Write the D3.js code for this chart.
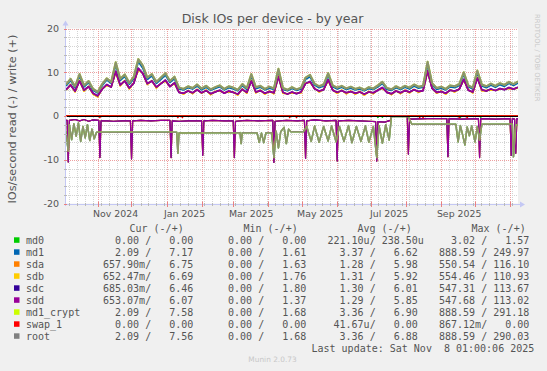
<!DOCTYPE html>
<html>
<head>
<meta charset="utf-8">
<script src="https://cdn.jsdelivr.net/npm/d3@7"></script>
<style>
  html, body { margin: 0; padding: 0; background: #f0f0f0; }
  svg { display: block; }
  text { font-family: "DejaVu Sans", sans-serif; fill: #555; }
  .mono { font-family: "DejaVu Sans Mono", monospace; font-size: 10px; white-space: pre; }
</style>
</head>
<body>
<div id="chart"></div>
<script>
// time span of the yearly graph (400 days)
const startDate = new Date(2024, 9, 4, 1, 0, 6);
const endDate = new Date(2025, 10, 8, 1, 0, 6);
const writeStepDays = 4;

const devices = ["md0", "md1", "sda", "sdb", "sdc", "sdd", "md1_crypt", "swap_1", "root"];
const deviceColors = ["#00cc00", "#0066b3", "#ff8000", "#ffcc00", "#330099", "#990099", "#ccff00", "#ff0000", "#808080"];

// writes (+), one value every 4 days
const writeRoot = [
  7.2, 8.5, 6.8, 9.6, 7.0, 8.0, 6.2, 5.5, 7.3, 8.6,
  7.8, 12.3, 8.5, 9.5, 7.6, 9.0, 13.0, 11.5, 8.8, 9.6,
  7.8, 8.8, 9.8, 8.0, 9.0, 6.5, 6.2, 6.8, 6.4, 7.2,
  6.3, 6.9, 6.1, 6.6, 7.0, 6.2, 6.8, 6.5, 6.0, 7.3,
  6.4, 9.6, 6.6, 6.9, 6.2, 6.7, 6.3, 10.8, 6.4, 6.0,
  6.6, 6.1, 6.5, 8.8, 9.4, 7.4, 6.8, 7.2, 9.8, 7.0,
  6.5, 6.9, 6.3, 6.7, 6.2, 6.5, 6.0, 6.6, 6.3, 7.0,
  7.8, 6.4, 6.1, 6.8, 6.3, 6.9, 6.5, 7.2, 6.7, 6.9,
  12.4, 7.5, 6.4, 6.7, 6.2, 7.0, 6.8, 7.3, 10.0, 7.0,
  6.5, 10.4, 7.2, 6.8, 7.4, 6.9, 7.5, 7.1, 7.8, 7.3,
  7.9
];
const writeMd1 = [
  6.9, 8.2, 6.5, 9.2, 6.7, 7.7, 5.9, 5.3, 7.0, 8.3,
  7.5, 11.8, 8.2, 9.1, 7.3, 8.6, 12.5, 11.0, 8.4, 9.2,
  7.5, 8.4, 9.4, 7.7, 8.6, 6.2, 6.0, 6.5, 6.2, 6.9,
  6.0, 6.6, 5.9, 6.3, 6.7, 6.0, 6.5, 6.2, 5.8, 7.0,
  6.1, 9.2, 6.3, 6.6, 6.0, 6.4, 6.1, 10.4, 6.1, 5.8,
  6.3, 5.9, 6.2, 8.4, 9.0, 7.1, 6.5, 6.9, 9.4, 6.7,
  6.2, 6.6, 6.1, 6.4, 6.0, 6.2, 5.8, 6.3, 6.1, 6.7,
  7.5, 6.1, 5.9, 6.5, 6.1, 6.6, 6.2, 6.9, 6.4, 6.6,
  11.9, 7.2, 6.1, 6.4, 6.0, 6.7, 6.5, 7.0, 9.6, 6.7,
  6.2, 10.0, 6.9, 6.5, 7.1, 6.6, 7.2, 6.8, 7.5, 7.0,
  7.6
];
const writeSdab = [
  5.8, 7.2, 5.5, 8.1, 5.7, 6.8, 5.0, 4.4, 6.2, 7.0,
  6.7, 10.0, 6.9, 8.1, 6.2, 7.6, 10.6, 9.8, 7.2, 8.1,
  6.4, 7.5, 8.0, 6.8, 7.4, 5.5, 5.0, 5.8, 5.1, 6.1,
  5.2, 5.9, 4.9, 5.6, 5.7, 5.3, 5.5, 5.5, 4.8, 6.2,
  5.2, 8.1, 5.3, 5.9, 5.0, 5.7, 5.1, 9.1, 5.2, 5.1,
  5.3, 5.2, 5.3, 7.5, 7.7, 6.3, 5.5, 6.1, 8.1, 6.0,
  5.2, 5.9, 5.1, 5.7, 5.0, 5.6, 4.8, 5.6, 5.1, 6.0,
  6.3, 5.5, 4.9, 5.8, 5.1, 5.9, 5.3, 6.1, 5.4, 5.9,
  10.1, 6.4, 5.2, 5.7, 5.0, 6.0, 5.5, 6.2, 8.2, 6.0,
  5.3, 8.8, 5.8, 5.8, 6.0, 5.9, 6.1, 6.1, 6.3, 6.2,
  6.4
];
const writeSdcd = [
  6.0, 7.1, 5.7, 8.0, 5.9, 6.7, 5.2, 4.6, 6.1, 7.2,
  6.6, 10.2, 7.1, 8.0, 6.4, 7.5, 10.9, 9.7, 7.4, 8.0,
  6.6, 7.4, 8.2, 6.7, 7.6, 5.4, 5.2, 5.7, 5.3, 6.0,
  5.3, 5.8, 5.1, 5.5, 5.9, 5.2, 5.7, 5.4, 5.0, 6.1,
  5.4, 8.0, 5.5, 5.8, 5.2, 5.6, 5.3, 9.0, 5.4, 5.0,
  5.5, 5.1, 5.5, 7.4, 7.9, 6.2, 5.7, 6.0, 8.3, 5.9,
  5.4, 5.8, 5.3, 5.6, 5.2, 5.5, 5.0, 5.5, 5.3, 5.9,
  6.5, 5.4, 5.1, 5.7, 5.3, 5.8, 5.5, 6.0, 5.6, 5.8,
  10.3, 6.3, 5.4, 5.6, 5.2, 5.9, 5.7, 6.1, 8.4, 5.9,
  5.5, 8.7, 6.0, 5.7, 6.2, 5.8, 6.3, 6.0, 6.5, 6.1,
  6.6
];
const writeZero = [[0, 0], [400, 0]];

// reads (-), as [day since start, value] break points
const readDisks = [
  [0, -1.0], [1, -1.0], [2, -10.5], [3, -1.0], [8, -0.8], [12, -1.1], [16, -0.8], [20, -1.2], [24, -0.9],
  [29, -1.0], [30, -9.5], [31, -1.1], [36, -1.1], [42, -1.2], [50, -1.1], [57, -1.1], [58, -9.8], [59, -1.1],
  [66, -1.0], [75, -1.1], [84, -1.0], [92, -1.0], [93, -9.5], [94, -1.1], [100, -1.2], [108, -1.1],
  [120, -1.1], [121, -9.0], [122, -1.1], [130, -1.0], [140, -1.1], [148, -1.1], [149, -9.5], [150, -1.2],
  [160, -1.0], [170, -1.1], [183, -1.0], [184, -10.6], [185, -1.2], [195, -1.0], [205, -1.1], [211, -1.0],
  [212, -9.7], [213, -1.1], [220, -0.9], [230, -1.1], [239, -1.0], [240, -10.3], [241, -1.1], [250, -1.0],
  [260, -1.1], [268, -1.2], [274, -1.3], [275, -10.3], [276, -1.3], [282, -1.4], [287, -1.0], [288, -0.1],
  [302, -0.1], [303, -8.7], [304, -0.7], [320, -0.6], [337, -0.6], [338, -9.3], [339, -0.6], [350, -0.7],
  [365, -0.6], [366, -9.5], [367, -0.6], [380, -0.7], [393, -0.6], [394, -9.0], [395, -0.6], [397, -0.7],
  [398, -8.5], [399, -0.6], [400, -0.65]
];
const readHost = [
  [0, -3.5], [1, -6.0], [2, -8.0], [3, -2.0], [5, -5.4], [7, -1.8], [9, -4.6], [11, -1.6], [13, -5.8],
  [15, -2.4], [17, -5.0], [19, -2.0], [21, -5.6], [23, -3.0], [25, -5.2], [27, -3.7], [98, -3.7], [99, -8.5],
  [100, -3.9], [154, -3.8], [155, -6.3], [156, -3.8], [169, -3.8], [171, -6.0], [173, -3.9], [175, -6.1],
  [177, -3.8], [182, -3.8], [184, -9.5], [186, -3.5], [188, -7.3], [190, -3.6], [193, -2.6], [195, -6.3],
  [197, -3.0], [199, -3.6], [210, -3.6], [213, -2.4], [217, -5.8], [220, -2.3], [224, -6.0], [228, -2.4],
  [232, -5.7], [235, -2.3], [239, -5.9], [242, -2.4], [246, -5.8], [250, -2.2], [253, -6.1], [257, -2.4],
  [261, -5.8], [265, -2.3], [268, -6.0], [272, -2.4], [275, -9.5], [277, -2.2], [280, -6.2], [283, -2.0],
  [286, -5.5], [288, -0.1], [302, -0.1], [303, -0.2], [306, -1.9], [345, -1.9], [347, -5.9], [349, -2.2],
  [351, -4.3], [353, -6.6], [355, -2.5], [357, -4.5], [359, -2.3], [362, -5.9], [364, -2.4], [366, -5.5],
  [368, -1.9], [395, -1.9], [396, -9.3], [398, -2.0], [400, -2.1]
];
const readMd0 = [
  [0, 0], [275, 0], [276, -0.35], [277, 0], [279, 0], [280, -0.3], [281, 0], [348, 0], [349, -0.3],
  [350, 0], [366, 0], [367, -0.3], [368, 0], [400, 0]
];
const readSwap = [
  [0, 0], [29, 0], [30, -0.4], [31, 0], [98, 0], [99, -0.4], [100, 0], [102, 0], [103, -0.4], [104, 0],
  [153, 0], [154, -0.4], [155, 0], [197, 0], [198, -0.4], [199, 0], [203, 0], [204, -0.4], [205, 0],
  [312, 0], [313, -0.4], [314, 0], [315, 0], [316, -0.4], [317, 0], [347, 0], [348, -0.4], [349, 0],
  [354, 0], [355, -0.4], [356, 0], [400, 0]
];

// which read / write data each device uses
const deviceReads = [readMd0, readHost, readDisks, readDisks, readDisks, readDisks, readHost, readSwap, readHost];
const deviceWrites = [writeZero, writeMd1, writeSdab, writeSdab, writeSdcd, writeSdcd, writeRoot, writeZero, writeRoot];

// legend table
const legendHeaders = ["Cur (-/+)", "Min (-/+)", "Avg (-/+)", "Max (-/+)"];
const legendCur = ["  0.00 /   0.00", "  2.09 /   7.17", "657.90m/   6.75", "652.47m/   6.69", "685.03m/   6.46",
  "653.07m/   6.07", "  2.09 /   7.58", "  0.00 /   0.00", "  2.09 /   7.56"];
const legendMin = ["  0.00 /   0.00", "  0.00 /   1.61", "  0.00 /   1.63", "  0.00 /   1.76", "  0.00 /   1.80",
  "  0.00 /   1.37", "  0.00 /   1.68", "  0.00 /   0.00", "  0.00 /   1.68"];
const legendAvg = ["221.10u/ 238.50u", "  3.37 /   6.62", "  1.28 /   5.98", "  1.31 /   5.92", "  1.30 /   6.01",
  "  1.29 /   5.85", "  3.36 /   6.90", " 41.67u/   0.00", "  3.36 /   6.88"];
const legendMax = ["  3.02 /   1.57", "888.59 / 249.97", "550.54 / 116.10", "554.46 / 110.93", "547.31 / 113.67",
  "547.68 / 113.02", "888.59 / 291.18", "867.12m/   0.00", "888.59 / 290.03"];
const lastUpdate = "Last update: Sat Nov  8 01:00:06 2025";

const width = 547;
const height = 371;

const svg = d3.select("#chart").append("svg")
  .attr("width", width)
  .attr("height", height)
  .attr("viewBox", [0, 0, width, height]);

svg.append("rect").attr("width", width).attr("height", height).attr("fill", "#f0f0f0");

const x = d3.scaleTime().domain([startDate, endDate]).range([66, 518]);
const y = d3.scaleLinear().domain([-20, 20]).range([203.5, 28.5]);

const plotLeft = x.range()[0];
const plotRight = x.range()[1];
const plotTop = y.range()[1];
const plotBottom = y.range()[0];

svg.append("rect")
  .attr("x", plotLeft)
  .attr("y", plotTop)
  .attr("width", plotRight - plotLeft)
  .attr("height", plotBottom - plotTop)
  .attr("fill", "#ffffff");

svg.append("defs").append("clipPath")
  .attr("id", "plotClip")
  .append("rect")
  .attr("x", plotLeft)
  .attr("y", plotTop - 1)
  .attr("width", plotRight - plotLeft)
  .attr("height", plotBottom - plotTop + 1);

// grid
const grid = svg.append("g").attr("shape-rendering", "crispEdges");

const weeks = d3.timeMonday.range(startDate, endDate);
const months = d3.timeMonth.range(startDate, endDate);

grid.selectAll(".vminor")
  .data(weeks)
  .join("line")
  .attr("x1", function (d) { return Math.round(x(d)) + 0.5; })
  .attr("x2", function (d) { return Math.round(x(d)) + 0.5; })
  .attr("y1", plotTop)
  .attr("y2", plotBottom)
  .attr("stroke", "#d4d4d4")
  .attr("stroke-dasharray", "1,1");

grid.selectAll(".hminor")
  .data(y.ticks(20).filter(function (v) { return v % 10 !== 0; }))
  .join("line")
  .attr("x1", plotLeft)
  .attr("x2", plotRight)
  .attr("y1", function (v) { return Math.round(y(v)) + 0.5; })
  .attr("y2", function (v) { return Math.round(y(v)) + 0.5; })
  .attr("stroke", "#d4d4d4")
  .attr("stroke-dasharray", "1,1");

grid.selectAll(".vmajor")
  .data(months)
  .join("line")
  .attr("x1", function (d) { return Math.round(x(d)) + 0.5; })
  .attr("x2", function (d) { return Math.round(x(d)) + 0.5; })
  .attr("y1", plotTop)
  .attr("y2", plotBottom)
  .attr("stroke", "#eda0a0")
  .attr("stroke-dasharray", "1,1");

grid.selectAll(".hmajor")
  .data(y.ticks(4).filter(function (v) { return v !== 0 && v !== -20; }))
  .join("line")
  .attr("x1", plotLeft)
  .attr("x2", plotRight)
  .attr("y1", function (v) { return Math.round(y(v)) + 0.5; })
  .attr("y2", function (v) { return Math.round(y(v)) + 0.5; })
  .attr("stroke", "#eda0a0")
  .attr("stroke-dasharray", "1,1");

// data lines
const line = d3.line()
  .x(function (p) { return x(p[0]); })
  .y(function (p) { return y(p[1]); });

function pointsFromBreaks(breaks) {
  return breaks.map(function (b) { return [d3.timeDay.offset(startDate, b[0]), b[1]]; });
}

function pointsFromSteps(values) {
  return values.map(function (v, i) { return [d3.timeDay.offset(startDate, i * writeStepDays), v]; });
}

const lines = svg.append("g").attr("clip-path", "url(#plotClip)");

devices.forEach(function (name, i) {
  const writes = deviceWrites[i];
  const writePts = typeof writes[0] === "number" ? pointsFromSteps(writes) : pointsFromBreaks(writes);
  const isHost = name === "root" || name === "md1" || name === "md1_crypt";
  const opacity = name === "root" ? 0.85 : 1;

  lines.append("path")
    .attr("d", line(pointsFromBreaks(deviceReads[i])))
    .attr("fill", "none")
    .attr("stroke", deviceColors[i])
    .attr("stroke-opacity", opacity)
    .attr("stroke-width", isHost ? 1.5 : 1.2)
    .attr("stroke-linejoin", "round");

  lines.append("path")
    .attr("d", line(writePts))
    .attr("fill", "none")
    .attr("stroke", deviceColors[i])
    .attr("stroke-opacity", opacity)
    .attr("stroke-width", isHost ? 2 : 1.6)
    .attr("stroke-linejoin", "round");
});

// zero line
svg.append("line")
  .attr("x1", plotLeft)
  .attr("x2", plotRight)
  .attr("y1", Math.round(y(0)) + 0.5)
  .attr("y2", Math.round(y(0)) + 0.5)
  .attr("stroke", "#000")
  .attr("shape-rendering", "crispEdges");

// axes
const axisColor = "#c4c8f4";
const axes = svg.append("g").attr("shape-rendering", "crispEdges");

axes.append("line")
  .attr("x1", plotLeft - 0.5).attr("x2", plotLeft - 0.5)
  .attr("y1", plotBottom + 2).attr("y2", plotTop - 4)
  .attr("stroke", axisColor);
axes.append("line")
  .attr("x1", plotLeft - 2).attr("x2", plotRight + 3)
  .attr("y1", Math.round(plotBottom) + 0.5).attr("y2", Math.round(plotBottom) + 0.5)
  .attr("stroke", axisColor);

svg.append("path")
  .attr("d", `M${plotLeft - 3.5},${plotTop - 3} L${plotLeft - 0.5},${plotTop - 8} L${plotLeft + 2.5},${plotTop - 3} Z`)
  .attr("fill", axisColor);
svg.append("path")
  .attr("d", `M${plotRight + 2},${Math.round(plotBottom) - 2.5} L${plotRight + 7},${Math.round(plotBottom) + 0.5} L${plotRight + 2},${Math.round(plotBottom) + 3.5} Z`)
  .attr("fill", axisColor);

axes.selectAll(".xtick-minor")
  .data(weeks)
  .join("line")
  .attr("x1", function (d) { return Math.round(x(d)) + 0.5; })
  .attr("x2", function (d) { return Math.round(x(d)) + 0.5; })
  .attr("y1", plotBottom - 1)
  .attr("y2", plotBottom + 2)
  .attr("stroke", "#b8b8b8");

axes.selectAll(".xtick-major")
  .data(months)
  .join("line")
  .attr("x1", function (d) { return Math.round(x(d)) + 0.5; })
  .attr("x2", function (d) { return Math.round(x(d)) + 0.5; })
  .attr("y1", plotBottom - 2)
  .attr("y2", plotBottom + 3)
  .attr("stroke", "#e88080");

axes.selectAll(".ytick")
  .data(y.ticks(20))
  .join("line")
  .attr("x1", plotLeft - 2)
  .attr("x2", plotLeft + 1)
  .attr("y1", function (v) { return Math.round(y(v)) + 0.5; })
  .attr("y2", function (v) { return Math.round(y(v)) + 0.5; })
  .attr("stroke", function (v) { return v % 10 === 0 ? "#e88080" : "#b8b8b8"; });

// tick labels
svg.selectAll(".ylabel")
  .data(y.ticks(4))
  .join("text")
  .attr("x", 59)
  .attr("y", function (v) { return y(v) + 3.4; })
  .attr("text-anchor", "end")
  .attr("font-size", "9.5px")
  .text(function (v) { return v; });

const labelMonths = d3.timeMonth.every(2).range(startDate, endDate)
  .filter(function (d) { return d3.timeDay.offset(d, 16) < endDate; });
svg.selectAll(".xlabel")
  .data(labelMonths)
  .join("text")
  .attr("x", function (d) { return x(d3.timeDay.offset(d, 16)); })
  .attr("y", 216.5)
  .attr("text-anchor", "middle")
  .attr("font-size", "9.4px")
  .text(d3.timeFormat("%b %Y"));

// title and axis label
svg.append("text")
  .attr("x", 272.5)
  .attr("y", 23)
  .attr("text-anchor", "middle")
  .attr("font-size", "12.6px")
  .text("Disk IOs per device - by year");

svg.append("text")
  .attr("transform", "translate(15.5,119) rotate(-90)")
  .attr("text-anchor", "middle")
  .attr("font-size", "11.3px")
  .text("IOs/second read (-) / write (+)");

svg.append("text")
  .attr("transform", "translate(534.5,14) rotate(90)")
  .attr("font-size", "6.8px")
  .style("fill", "#c8c8c8")
  .text("RRDTOOL / TOBI OETIKER");

// legend
const legend = svg.append("g");
const headerX = [129.5, 243.5, 357.5, 471.5];
const cellX = [103, 216, 327.5, 439];
const cellData = [legendCur, legendMin, legendAvg, legendMax];

legend.selectAll(".hdr")
  .data(legendHeaders)
  .join("text")
  .attr("class", "mono")
  .attr("x", function (d, i) { return headerX[i]; })
  .attr("y", 232)
  .text(function (d) { return d; });

devices.forEach(function (name, i) {
  const cy = 240 + i * 12;

  legend.append("rect")
    .attr("x", 14)
    .attr("y", cy - 2.7)
    .attr("width", 5.5)
    .attr("height", 5.5)
    .attr("fill", deviceColors[i]);

  legend.append("text")
    .attr("class", "mono")
    .attr("x", 26)
    .attr("y", cy + 3.5)
    .text(name);

  cellData.forEach(function (col, c) {
    legend.append("text")
      .attr("class", "mono")
      .attr("x", cellX[c])
      .attr("y", cy + 3.5)
      .text(col[i]);
  });
});

legend.append("text")
  .attr("class", "mono")
  .attr("x", 311.5)
  .attr("y", 351.5)
  .text(lastUpdate);

svg.append("text")
  .attr("x", 272.5)
  .attr("y", 362)
  .attr("text-anchor", "middle")
  .attr("font-size", "7.4px")
  .style("fill", "#c8c8c8")
  .text("Munin 2.0.73");
</script>
</body>
</html>
